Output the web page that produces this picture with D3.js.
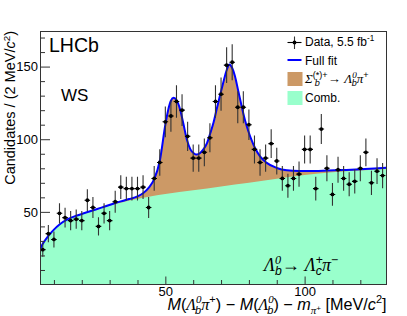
<!DOCTYPE html>
<html>
<head>
<meta charset="utf-8">
<script src="https://cdn.jsdelivr.net/npm/d3@7"></script>
<style>
body{margin:0;background:#fff}
svg{display:block}
text{font-family:"Liberation Sans",Arial,sans-serif}
</style>
</head>
<body>
<div id="chart"></div>
<script>
// histogram: bin centres (2 MeV bins) and candidate counts
var binCenters = [6,8,10,12,14,16,18,20,22,24,26,28,30,32,34,36,38,40,42,44,46,48,50,52,54,56,58,60,62,64,66,68,70,72,74,76,78,80,82,84,86,88,90,92,94,96,98,100,102,104,106,108,110,112,114,116,118,120,122,124,126,128];
var counts = [24,35,31,49,46,44,45,44,58,53,40,49,44,57,67,66,66,66,67,53,73,84,112,116,126,120,102,87,87,91,101,126,131,151,153,122,122,110,93,84,87,97,85,73,68,73,76,93,93,66,107,80,62,79,73,69,71,80,91,70,78,75];

// full fit curve
var fitX = [5,6,8,10,12,15,18,21,25,28,31,34,37,40,42,44,46,48,50,51,52,53,54,55.3,56.5,57.7,59,60.3,61.3,62.5,63.6,65,66.2,67.3,68.4,69.6,70.8,72,73,74,75,76.2,77.4,78.6,79.8,81,82.2,84,86.4,90,93.6,98,105,115,125,129.4];
var fitTotal = [24.3,28,33.5,37.8,41.3,45,47.3,49.2,51.6,53.5,55.4,57.2,58.8,60.6,62.8,66.5,72.5,85,110,120,126.5,128.5,127,120.5,110.5,100,93,90.2,89.5,90.5,92.8,97.5,104.5,111.5,120.5,130,139,147.5,151.5,149,143.4,133,122.7,113,105.5,99.2,94,88.2,83.7,80.2,78.6,78.1,78.2,78.9,79.9,80.4];

// combinatorial background component
var combX = [5,6,8,10,12,15,18,21,25,28,31,34,38,45,50,60,70,80,90,100,110,120,129.4];
var combY = [24.3,28,33.5,37.8,41.3,45,47.3,49.2,51.5,53.2,54.8,56.3,58.2,60.8,62.3,64.8,67.5,70,72.8,75.3,77.2,78.5,79.5];

var xTicks = [50,100];
var yTicks = [50,100,150];

var W = 407, H = 316;
var fL = 40, fR = 386.5, fT = 31, fB = 284.5;
var colComb = "#99ffcc", colSig = "#cc9966", colFit = "#0000ff";

var svg = d3.select("#chart").append("svg")
            .attr("width", W)
            .attr("height", H);

var x = d3.scaleLinear().domain([5,129.4]).range([fL,fR]);
var y = d3.scaleLinear().domain([0,174.5]).range([fB,fT]);

svg.append("clipPath").attr("id","frame")
  .append("rect").attr("x",fL).attr("y",fT).attr("width",fR-fL).attr("height",fB-fT);

var plot = svg.append("g").attr("clip-path","url(#frame)");

// signal+bkg area (tan), then comb area (green) over it
var totPts = fitX.map(function(v,i){ return [v, fitTotal[i]]; });
var combPts = combX.map(function(v,i){ return [v, combY[i]]; });

var area = d3.area()
  .x(function(d){ return x(d[0]); })
  .y0(fB)
  .y1(function(d){ return y(d[1]); })
  .curve(d3.curveMonotoneX);

plot.append("path").datum(totPts).attr("d", area).style("fill", colSig);
plot.append("path").datum(combPts).attr("d", area).style("fill", colComb);

var line = d3.line()
  .x(function(d){ return x(d[0]); })
  .y(function(d){ return y(d[1]); })
  .curve(d3.curveMonotoneX);

plot.append("path").datum(totPts).attr("d", line)
  .style("fill","none").style("stroke",colFit).style("stroke-width",2);

// data points with errors
var pts = plot.append("g");
binCenters.forEach(function(c,i){
  var n = counts[i], e = Math.sqrt(n);
  var g = pts.append("g");
  g.append("line")
    .attr("x1",x(c)).attr("x2",x(c))
    .attr("y1",y(n-e)).attr("y2",y(n+e))
    .style("stroke","#333").style("stroke-width",1.1);
  g.append("line")
    .attr("x1",x(c-1)).attr("x2",x(c+1))
    .attr("y1",y(n)).attr("y2",y(n))
    .style("stroke","#000").style("stroke-width",1.1);
  g.append("circle")
    .attr("cx",x(c)).attr("cy",y(n)).attr("r",1.9)
    .style("fill","#000");
});

// axes, ticks pointing inward like ROOT
var axCol = "#333";
var yAxis = svg.append("g").attr("transform","translate("+fL+",0)")
  .call(d3.axisLeft(y).tickValues(yTicks).tickSizeInner(-10).tickSizeOuter(0).tickPadding(2));
var yMinor = svg.append("g").attr("transform","translate("+fL+",0)")
  .call(d3.axisLeft(y).tickValues(d3.range(10,171,10).filter(function(v){ return yTicks.indexOf(v)<0; }))
        .tickSizeInner(-5).tickSizeOuter(0).tickFormat(""));
var xAxis = svg.append("g").attr("transform","translate(0,"+fB+")")
  .call(d3.axisBottom(x).tickValues(xTicks).tickSizeInner(-8).tickSizeOuter(0).tickPadding(2.5));
var xMinor = svg.append("g").attr("transform","translate(0,"+fB+")")
  .call(d3.axisBottom(x).tickValues(d3.range(10,130,10).filter(function(v){ return xTicks.indexOf(v)<0; }))
        .tickSizeInner(-4.5).tickSizeOuter(0).tickFormat(""));

[yAxis,yMinor,xAxis,xMinor].forEach(function(a){
  a.select(".domain").remove();
  a.selectAll("line").style("stroke",axCol);
  a.selectAll("text").style("font-size","13px").style("fill","#000")
    .style("font-family","Liberation Sans, Arial, sans-serif");
});

svg.append("rect")
  .attr("x",fL+0.5).attr("y",fT+0.5)
  .attr("width",fR-fL-0.5).attr("height",fB-fT-0.5)
  .style("fill","none").style("stroke",axCol).style("stroke-width",1);

// rich text helper: s=1 superscript, s=-1 subscript
function rich(sel, parts, fs, sc){
  sc = sc || 0.68;
  var t = sel.append("text").style("font-size", fs+"px");
  var cur = 0;
  parts.forEach(function(p){
    var s = p.s || 0;
    var size = s ? fs*sc : fs;
    var target = s===1 ? -fs*0.38 : (s===-1 ? fs*0.25 : 0);
    if(p.off !== undefined) target = p.off*fs;
    if(p.sz) size = p.sz*fs;
    var ts = t.append("tspan").text(p.t)
      .style("font-size", size+"px")
      .attr("dy", target-cur);
    cur = target;
    if(p.dx) ts.attr("dx", p.dx);
    if(p.g) ts.style("font-family","Liberation Serif, Times New Roman, serif").style("font-style","italic");
    if(p.i) ts.style("font-style","italic");
  });
  return t;
}

// axis titles
rich(svg, [
  {t:"M",i:1},{t:"("},{t:"Λ",g:1},{t:"0",s:1,g:1},{t:"b",s:-1,dx:-6.5,i:1},
  {t:"π",g:1},{t:"+",s:1},{t:") − "},{t:"M",i:1},{t:"("},{t:"Λ",g:1},{t:"0",s:1,g:1},
  {t:"b",s:-1,dx:-6.5,i:1},{t:") − "},{t:"m",i:1},{t:"π",s:-1,g:1},{t:"+",off:0.08,sz:0.5},
  {t:" [MeV/"},{t:"c",i:1},{t:"2",s:1},{t:"]"}
], 16.2).attr("x",fR).attr("y",309.5).attr("text-anchor","end");

rich(svg, [
  {t:"Candidates / (2 MeV/"},{t:"c",i:1},{t:"2",s:1},{t:")"}
], 14.5).attr("text-anchor","end").attr("transform","translate(15,31) rotate(-90)");

// labels in the frame
svg.append("text").attr("x",49).attr("y",51.7).text("LHCb").style("font-size","19.5px");
svg.append("text").attr("x",61).attr("y",101).text("WS").style("font-size","17px");

rich(svg, [
  {t:"Λ",g:1},{t:"0",s:1,g:1},{t:"b",s:-1,dx:-6,i:1},{t:"→ "},
  {t:"Λ",g:1},{t:"+",s:1},{t:"c",s:-1,dx:-7,i:1},{t:"π",g:1},{t:"−",s:1}
], 18).attr("x",264).attr("y",270.5);

// legend
var lg = svg.append("g");
lg.append("line").attr("x1",294.5).attr("x2",294.5).attr("y1",36.5).attr("y2",49)
  .style("stroke","#333").style("stroke-width",1.1);
lg.append("line").attr("x1",287.5).attr("x2",301.5).attr("y1",42.5).attr("y2",42.5)
  .style("stroke","#000").style("stroke-width",1.1);
lg.append("circle").attr("cx",294.5).attr("cy",42.5).attr("r",1.9).style("fill","#000");
rich(lg, [{t:"Data, 5.5 fb"},{t:"-1",s:1}], 12).attr("x",305).attr("y",46);

lg.append("line").attr("x1",287.5).attr("x2",301.5).attr("y1",60).attr("y2",60)
  .style("stroke",colFit).style("stroke-width",2);
lg.append("text").attr("x",305).attr("y",64.5).text("Full fit").style("font-size","12px");

lg.append("rect").attr("x",287.5).attr("y",72).attr("width",15).attr("height",14).style("fill",colSig);
rich(lg, [
  {t:"Σ",g:1},{t:"(*)+",s:1},{t:"b",s:-1,dx:-13,i:1},{t:"→ ",dx:8},
  {t:"Λ",g:1},{t:"0",s:1,g:1},{t:"b",s:-1,dx:-5,i:1},{t:"π",g:1},{t:"+",s:1}
], 13, 0.7).attr("x",305).attr("y",83);

lg.append("rect").attr("x",287.5).attr("y",91).attr("width",15).attr("height",14).style("fill",colComb);
lg.append("text").attr("x",305).attr("y",102).text("Comb.").style("font-size","12px");
</script>
</body>
</html>
